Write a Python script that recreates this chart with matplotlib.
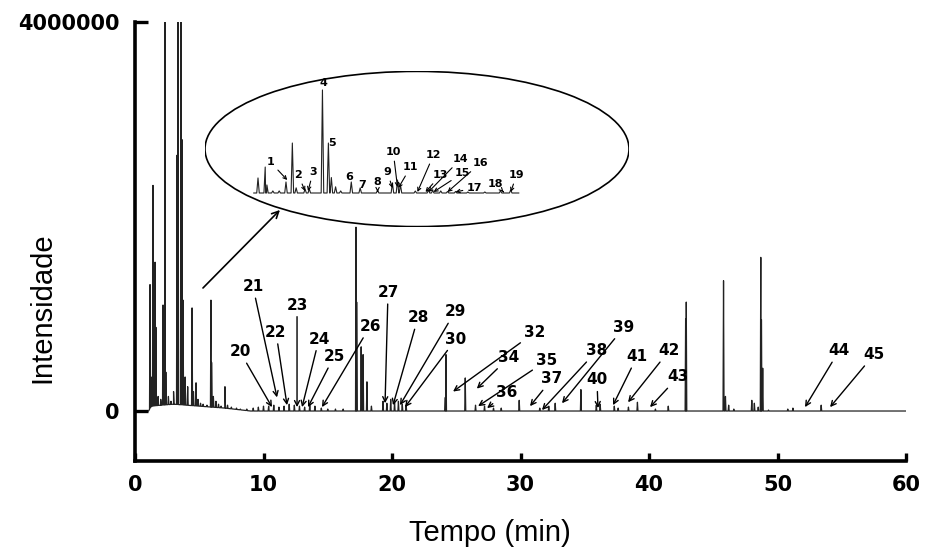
import numpy as np
import matplotlib.pyplot as plt
from matplotlib.patches import Ellipse

# ---- main chromatogram: retention time (min) / intensity ----
peak_t = [1.17, 1.25, 1.40, 1.47, 1.56, 1.63, 1.80, 2.00, 2.18, 2.27, 2.33, 2.40,
          2.60, 2.80, 3.00, 3.27, 3.35, 3.58, 3.66, 3.74, 3.90, 4.10, 4.44, 4.55,
          4.75, 4.90, 5.10, 5.30, 5.60, 5.91, 5.96, 6.10, 6.30, 6.50, 6.70, 7.00,
          7.20, 7.50, 7.90, 8.20, 8.70, 9.20, 9.60, 10.0, 10.4, 10.8, 11.2, 11.6,
          12.0, 12.4, 12.8, 13.2, 13.6, 14.0, 14.5, 15.0, 15.6, 16.2,
          17.20, 17.25, 17.60, 17.75, 18.05, 18.40, 19.30, 19.60, 19.90, 20.20,
          20.50, 20.80, 21.10, 24.15, 24.20, 25.70, 26.50, 27.20, 27.90, 28.50,
          29.90, 31.50, 32.20, 32.70, 34.70, 35.90, 36.20, 37.30, 37.60, 38.40,
          39.10, 40.50, 41.50, 42.85, 42.90, 45.80, 45.95, 46.20, 46.60, 48.00,
          48.20, 48.50, 48.70, 48.75, 48.85, 49.30, 50.80, 51.20, 53.40]
peak_h = [1.30e6, 0.35e6, 2.32e6, 1.00e6, 1.53e6, 0.86e6, 0.15e6, 0.12e6, 1.09e6, 0.50e6, 4.5e6, 0.40e6,
          0.15e6, 0.10e6, 0.20e6, 2.63e6, 4.5e6, 4.5e6, 2.79e6, 1.14e6, 0.35e6, 0.25e6, 1.06e6, 0.20e6,
          0.29e6, 0.12e6, 0.08e6, 0.07e6, 0.06e6, 1.14e6, 0.50e6, 0.15e6, 0.10e6, 0.07e6, 0.05e6, 0.25e6,
          0.06e6, 0.04e6, 0.03e6, 0.02e6, 0.02e6, 0.03e6, 0.04e6, 0.05e6, 0.05e6, 0.06e6, 0.04e6, 0.05e6,
          0.07e6, 0.06e6, 0.05e6, 0.04e6, 0.06e6, 0.05e6, 0.03e6, 0.02e6, 0.02e6, 0.02e6,
          1.89e6, 1.12e6, 0.66e6, 0.58e6, 0.30e6, 0.05e6, 0.10e6, 0.08e6, 0.12e6, 0.09e6,
          0.10e6, 0.07e6, 0.06e6, 0.14e6, 0.58e6, 0.34e6, 0.06e6, 0.05e6, 0.03e6, 0.03e6,
          0.11e6, 0.03e6, 0.05e6, 0.08e6, 0.22e6, 0.06e6, 0.07e6, 0.05e6, 0.03e6, 0.04e6,
          0.09e6, 0.02e6, 0.05e6, 0.95e6, 1.12e6, 1.34e6, 0.15e6, 0.06e6, 0.02e6, 0.11e6,
          0.08e6, 0.04e6, 1.58e6, 0.94e6, 0.44e6, 0.01e6, 0.02e6, 0.03e6, 0.06e6]
base_t = [1.05, 1.3, 2.0, 3.0, 4.0, 5.0, 6.0, 7.0, 8.0, 9.0, 60.0]
base_v = [0.0, 0.05e6, 0.06e6, 0.07e6, 0.06e6, 0.05e6, 0.04e6, 0.03e6, 0.015e6, 0.0, 0.0]

# ---- inset (expanded view, arbitrary units) ----
in_t = [12.5, 14.2, 14.6, 16.0, 17.5, 19.1, 20.6, 21.5, 23.6, 24.6, 27.7, 29.1,
        29.8, 30.8, 32.0, 34.5, 36.6, 40.7, 44.2, 45.4, 46.1, 49.6, 52.7, 53.7,
        55.6, 57.2, 59.1, 62.0, 66.0, 69.7, 72.1]
in_h = [14.6, 25.2, 7.8, 2.0, 2.0, 10.7, 48.5, 5.0, 3.9, 3.9, 100.0, 48.5,
        15.0, 6.0, 2.0, 10.7, 4.9, 2.9, 9.7, 12.6, 7.8, 1.9, 2.9, 2.5,
        2.0, 1.5, 1.5, 1.0, 1.0, 2.0, 3.0]
in_base_t = [11.5, 74.0]
in_base_v = [0.0, 0.0]

# compound numbers
main_labels = ['20', '21', '22', '23', '24', '25', '26', '27', '28', '29', '30',
               '32', '34', '35', '36', '37', '38', '39', '40', '41', '42', '43', '44', '45']
inset_labels = [str(i) for i in range(1, 20)]

# layout: text position / arrow tip (data units); None tip = no arrow
main_text = [(8.17, 0.61e6), (9.18, 1.28e6), (10.97, 0.81e6), (12.61, 1.09e6), (14.32, 0.74e6),
             (15.49, 0.56e6), (18.29, 0.87e6), (19.69, 1.22e6), (22.02, 0.96e6), (24.9, 1.02e6),
             (24.98, 0.74e6), (31.13, 0.81e6), (29.1, 0.55e6), (32.06, 0.52e6), (28.95, 0.19e6),
             (32.45, 0.33e6), (35.95, 0.62e6), (38.05, 0.86e6), (35.95, 0.32e6), (39.07, 0.56e6),
             (41.56, 0.62e6), (42.26, 0.35e6), (54.79, 0.62e6), (57.51, 0.58e6)]
main_tip = [(10.66, 0.04e6), (11.05, 0.14e6), (11.83, 0.06e6), (12.61, 0.04e6), (13.0, 0.04e6),
            (13.46, 0.04e6), (14.55, 0.04e6), (19.46, 0.08e6), (20.08, 0.06e6), (20.62, 0.06e6),
            (21.01, 0.04e6), (24.75, 0.2e6), (26.6, 0.23e6), (26.7, 0.05e6), (27.4, 0.03e6),
            (30.74, 0.05e6), (31.67, 0.01e6), (33.23, 0.08e6), (36.03, 0.03e6), (37.2, 0.06e6),
            (38.37, 0.09e6), (40.08, 0.04e6), (52.14, 0.04e6), (54.09, 0.04e6)]
inset_text = [(15.4, 30.1), (22.0, 17.5), (25.5, 20.4), (27.9, 106.8), (30.0, 48.5), (34.0, 15.5),
              (37.1, 7.8), (40.7, 10.7), (43.0, 20.4), (44.4, 39.8), (48.5, 25.2), (53.9, 36.9),
              (55.6, 17.5), (60.3, 33.0), (60.8, 19.4), (65.0, 29.1), (63.6, 4.9), (68.6, 8.7),
              (73.5, 17.5)]
inset_tip = [(19.4, 12.6), (23.6, 1.9), (24.3, 1.9), None, None, None, None, (40.7, 1.0),
             (44.2, 4.9), (45.4, 5.8), (45.6, 4.9), (50.1, 1.0), (52.0, 1.0), (52.7, 1.0),
             (53.9, 1.0), (57.2, 1.0), (59.1, 1.0), (70.4, 1.0), (72.1, 1.0)]


def trace(pt, ph, bt, bv, hw):
    pts = list(zip(bt, bv))
    for t, h in zip(pt, ph):
        pts += [(t - hw, np.interp(t - hw, bt, bv)), (t, h), (t + hw, np.interp(t + hw, bt, bv))]
    pts.sort()
    x, y = zip(*pts)
    return x, y


num_font = 'DejaVu Sans'
fig = plt.figure(figsize=(9.25, 5.48), dpi=100)
ax = fig.add_axes([135 / 925, 1 - 461 / 548, 771 / 925, 439 / 548])

x, y = trace(peak_t, peak_h, base_t, base_v, 0.04)
ax.plot(x, y, color='#222222', lw=0.9)
ax.set_xlim(0, 60)
ax.set_ylim(-0.514e6, 4e6)
for s in ['top', 'right']:
    ax.spines[s].set_visible(False)
for s in ['left', 'bottom']:
    ax.spines[s].set_linewidth(2.6)
ax.set_xticks(range(0, 61, 10))
ax.set_yticks([0, 4000000])
ax.set_yticklabels(['0', '4000000'])
ax.tick_params(axis='x', direction='in', length=6, width=2.4, pad=10, labelsize=15)
ax.tick_params(axis='y', direction='in', length=9.5, width=2.4, pad=11, labelsize=15)
for lab in ax.get_xticklabels() + ax.get_yticklabels():
    lab.set_fontweight('bold')
    lab.set_family(num_font)

for lab, xy_t, xy_p in zip(main_labels, main_text, main_tip):
    ax.annotate(lab, xy=xy_p, xytext=xy_t, ha='center', va='center', fontsize=11,
                fontweight='bold', family=num_font,
                arrowprops=dict(arrowstyle='->', lw=1.0, color='black', shrinkA=1, shrinkB=0,
                                mutation_scale=9))
ax.annotate('', xy=(11.28, 2.067e6), xytext=(5.29, 1.265e6),
            arrowprops=dict(arrowstyle='->', lw=1.2, color='black', shrinkA=0, shrinkB=0,
                            mutation_scale=12))

fig.text(42 / 925, 1 - 308 / 548, 'Intensidade', rotation=90, ha='center', va='center',
         fontsize=21, family='Liberation Sans')
fig.text(490 / 925, 1 - 541 / 548, 'Tempo (min)', ha='center', va='baseline',
         fontsize=21, family='Liberation Sans')

# inset
axi = fig.add_axes([205 / 925, 1 - 227 / 548, 424 / 925, 156 / 548])
axi.set_axis_off()
axi.patch.set_alpha(0)
axi.set_xlim(0, 100)
axi.set_ylim(-33, 118.4)
axi.add_patch(Ellipse((0.5, 0.5), 1, 0.995, transform=axi.transAxes, fill=False,
                      lw=1.2, color='black'))
xi, yi = trace(in_t, in_h, in_base_t, in_base_v, 0.3)
axi.plot(xi, yi, color='#222222', lw=0.8)
for lab, xy_t, xy_p in zip(inset_labels, inset_text, inset_tip):
    if xy_p is None:
        axi.text(xy_t[0], xy_t[1], lab, ha='center', va='center', fontsize=8,
                 fontweight='bold', family=num_font)
    else:
        axi.annotate(lab, xy=xy_p, xytext=xy_t, ha='center', va='center', fontsize=8,
                     fontweight='bold', family=num_font,
                     arrowprops=dict(arrowstyle='->', lw=0.8, color='black', shrinkA=1,
                                     shrinkB=0, mutation_scale=6))

fig.savefig('out.png', dpi=100)
